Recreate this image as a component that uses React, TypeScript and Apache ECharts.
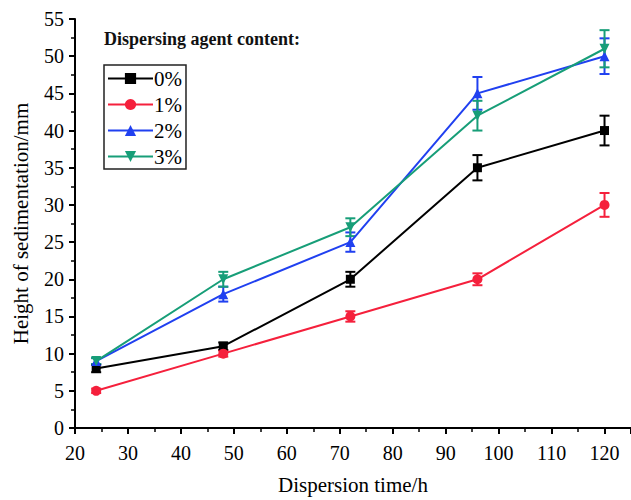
import React, { useEffect, useRef } from "react";
import * as echarts from "echarts";

const times = [24, 48, 72, 96, 120];
const seriesNames = ["0%", "1%", "2%", "3%"];
const values0 = [8, 11, 20, 35, 40];
const values1 = [5, 10, 15, 20, 30];
const values2 = [9, 18, 25, 45, 50];
const values3 = [9, 20, 27, 42, 51];
const err0 = [0.5, 0.5, 1.0, 1.7, 2.0];
const err1 = [0.3, 0.4, 0.7, 0.8, 1.6];
const err2 = [0.4, 1.0, 1.3, 2.2, 2.4];
const err3 = [0.4, 1.0, 1.2, 2.0, 2.5];
const xTicks = [20, 30, 40, 50, 60, 70, 80, 90, 100, 110, 120];
const yTicks = [0, 5, 10, 15, 20, 25, 30, 35, 40, 45, 50, 55];

const colors = ["#000000", "#f5203c", "#2040f0", "#179e78"];
const symbols = ["rect", "circle", "triangle", "triangle"];
const rotates = [0, 0, 0, 180];
const allValues = [values0, values1, values2, values3];
const allErr = [err0, err1, err2, err3];

const FONT = "'Liberation Serif', 'Times New Roman', serif";

export default function App() {
  const ref = useRef<HTMLDivElement>(null);
  useEffect(() => {
    const chart = echarts.init(ref.current!, undefined, { renderer: "svg" });
    const lineSeries: any[] = allValues.map((vals, i) => ({
      name: seriesNames[i],
      type: "line",
      data: times.map((t, j) => [t, vals[j]]),
      symbol: symbols[i],
      symbolSize: i === 0 ? 9 : 10,
      symbolRotate: rotates[i],
      lineStyle: { color: colors[i], width: 2 },
      itemStyle: { color: colors[i] },
      z: 3,
    }));
    const errSeries: any[] = allValues.map((vals, i) => ({
      name: seriesNames[i] + "err",
      type: "custom",
      data: times.map((t, j) => [t, vals[j] - allErr[i][j], vals[j] + allErr[i][j]]),
      renderItem: (params: any, api: any) => {
        const x = api.value(0);
        const lo = api.coord([x, api.value(1)]);
        const hi = api.coord([x, api.value(2)]);
        const hw = 5;
        const style = { stroke: colors[i], lineWidth: 2 };
        return {
          type: "group",
          children: [
            { type: "line", shape: { x1: lo[0], y1: lo[1], x2: hi[0], y2: hi[1] }, style },
            { type: "line", shape: { x1: lo[0] - hw, y1: lo[1], x2: lo[0] + hw, y2: lo[1] }, style },
            { type: "line", shape: { x1: hi[0] - hw, y1: hi[1], x2: hi[0] + hw, y2: hi[1] }, style },
          ],
        };
      },
      z: 2,
      silent: true,
    }));
    chart.setOption({
      animation: false,
      backgroundColor: "#ffffff",
      textStyle: { fontFamily: FONT },
      title: {
        text: "Dispersing agent content:",
        left: 104,
        top: 30,
        padding: 0,
        textStyle: { fontFamily: FONT, fontSize: 18, fontWeight: "bold", color: "#111" },
      },
      legend: {
        data: seriesNames,
        orient: "vertical",
        left: 104,
        top: 65,
        padding: [3, 4, 2, 3],
        itemGap: 5,
        itemWidth: 45,
        itemHeight: 14,
        borderColor: "#222",
        borderWidth: 1.5,
        textStyle: { fontFamily: FONT, fontSize: 21, lineHeight: 19, color: "#000", padding: [0, 0, 0, -4] },
      },
      grid: { left: 75, top: 19, width: 560, bottom: 66 },
      xAxis: {
        type: "value",
        min: xTicks[0],
        max: 125,
        interval: 10,
        name: "Dispersion time/h",
        nameLocation: "middle",
        nameGap: 46,
        nameTextStyle: { fontFamily: FONT, fontSize: 21, color: "#000" },
        axisLine: { show: true, lineStyle: { color: "#000", width: 2 } },
        axisTick: { show: true, inside: false, length: 6, lineStyle: { width: 2 } },
        minorTick: { show: true, splitNumber: 2, length: 4, lineStyle: { color: "#000", width: 1.5 } },
        splitLine: { show: false },
        axisLabel: {
          fontFamily: FONT,
          fontSize: 20,
          color: "#000",
          margin: 15,
          showMaxLabel: false,
          formatter: (v: number) => (xTicks.includes(v) ? String(v) : ""),
        },
      },
      yAxis: {
        type: "value",
        min: yTicks[0],
        max: yTicks[yTicks.length - 1],
        interval: 5,
        name: "Height of sedimentation/mm",
        nameLocation: "middle",
        nameGap: 44,
        nameTextStyle: { fontFamily: FONT, fontSize: 21, color: "#000" },
        axisLine: { show: true, lineStyle: { color: "#000", width: 2 } },
        axisTick: { show: true, inside: false, length: 6, lineStyle: { width: 2 } },
        minorTick: { show: true, splitNumber: 2, length: 4, lineStyle: { color: "#000", width: 1.5 } },
        splitLine: { show: false },
        axisLabel: { fontFamily: FONT, fontSize: 20, color: "#000", margin: 11 },
      },
      series: [...errSeries, ...lineSeries],
    });
    return () => chart.dispose();
  }, []);
  return (
    <div
      ref={ref}
      style={{ position: "fixed", left: 0, top: 0, width: 631, height: 500, background: "#fff" }}
    />
  );
}
